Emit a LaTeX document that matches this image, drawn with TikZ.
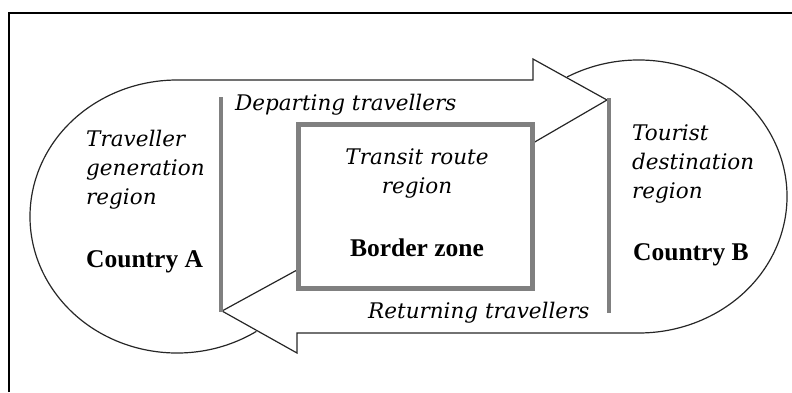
\documentclass[tikz,border=0pt]{standalone}
\usepackage{fontspec}
\setmainfont{Liberation Serif}
\newfontfamily\itf{DejaVu Serif}
\begin{document}
\begin{tikzpicture}[x=1pt,y=-1pt,
  thin/.style={draw=black!85, line width=1.2pt, line join=miter},
  grayline/.style={draw=black!50, line width=4pt},
  itlab/.style={font=\itf\itshape\fontsize{21.5}{29}\selectfont, inner sep=0pt, align=left},
  bdlab/.style={font=\bfseries\fontsize{25.5}{28}\selectfont, inner sep=0pt, anchor=base west}]
\useasboundingbox (0,0) rectangle (792,392);
% frame
\draw[black, line width=1.5pt] (9,392) -- (9,13) -- (792,13);
% left lobe and departing arrow
\draw[thin] (177,216.5) ++(57.3:147 and 136.5)
  arc[start angle=57.3, end angle=270, x radius=147, y radius=136.5]
  -- (533,80) -- (533,59) -- (607,100) -- (533,143);
% right lobe and returning arrow
\draw[thin] (638.7,196.5) ++(-118.9:148.3 and 136.5)
  arc[start angle=-118.9, end angle=90, x radius=148.3, y radius=136.5]
  -- (297,333) -- (297,353) -- (222,311) -- (297,270);
% border lines
\draw[grayline] (221,97) -- (221,312);
\draw[grayline] (608.5,98) -- (608.5,313);
% transit box
\node[draw=black!50, line width=4.5pt, fill=white, minimum width=234pt, minimum height=164pt, inner sep=0pt] (box) at (415.5,206.5) {};
% labels
\node[itlab, anchor=base west] (dep) at (235,110) {Departing travellers};
\node[itlab, anchor=base west] (ret) at (368,318) {Returning travellers};
\node[itlab, anchor=north west] (trav) at (86,130) {Traveller\\generation\\region};
\node[itlab, anchor=north west] (tour) at (632,124) {Tourist\\destination\\region};
\node[itlab, anchor=north, align=center] (transit) at (417,148) {Transit route\\region};
\node[bdlab] (ca) at (86,267) {Country A};
\node[bdlab] (cb) at (633,260) {Country B};
\node[bdlab, anchor=base] (bz) at (417,256) {Border zone};
\end{tikzpicture}
\end{document}
